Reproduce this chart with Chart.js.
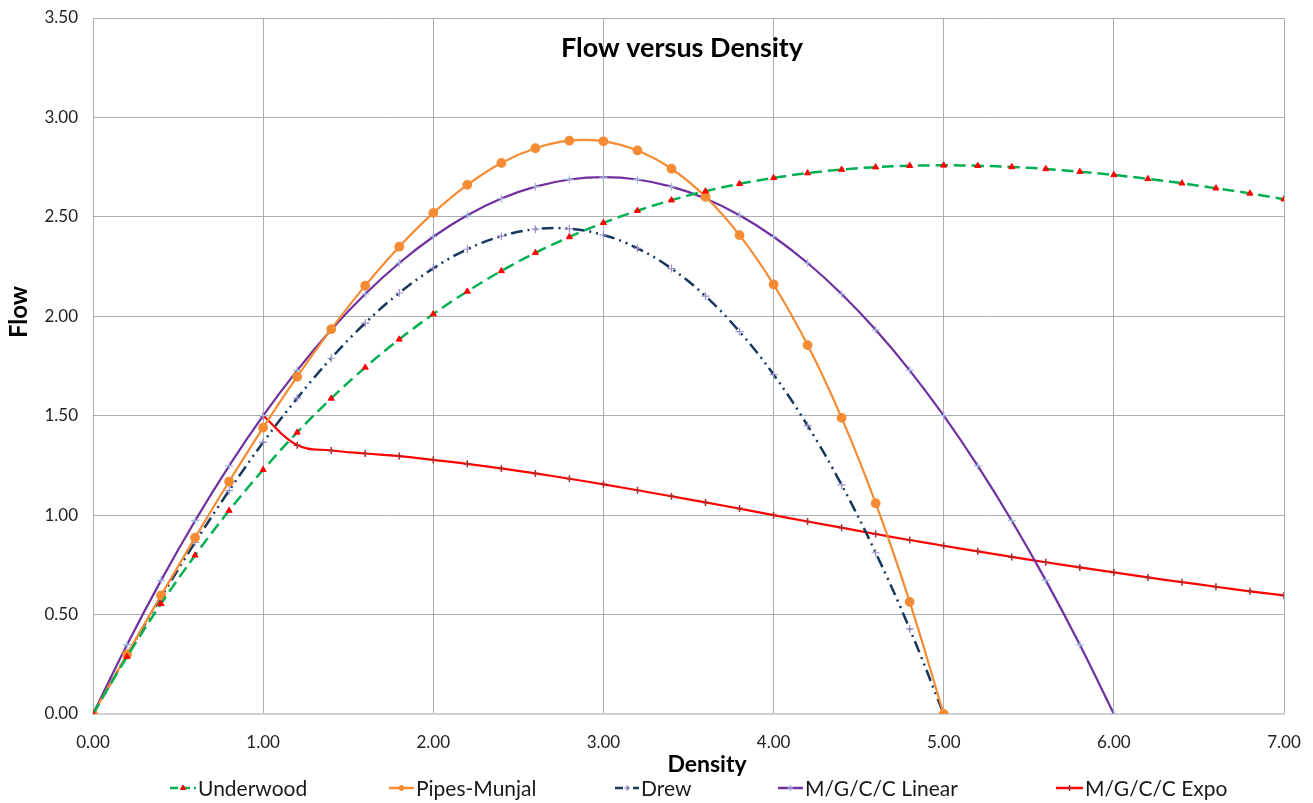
<!DOCTYPE html>
<html>
<head>
<meta charset="utf-8">
<script src="https://cdn.jsdelivr.net/npm/chart.js@4.4.0/dist/chart.umd.min.js"></script>
<style>
  html, body { margin: 0; padding: 0; background: #fff; }
  #wrap { width: 1313px; height: 803px; position: relative; }
</style>
</head>
<body>
<div id="wrap"><canvas id="flowChart" width="1313" height="803"></canvas></div>
<script>
// Density values (x axis), step 0.2
var density = [0.0, 0.2, 0.4, 0.6, 0.8, 1.0, 1.2, 1.4, 1.6, 1.8, 2.0, 2.2, 2.4, 2.6, 2.8, 3.0,
               3.2, 3.4, 3.6, 3.8, 4.0, 4.2, 4.4, 4.6, 4.8, 5.0, 5.2, 5.4, 5.6, 5.8, 6.0,
               6.2, 6.4, 6.6, 6.8, 7.0];

// Flow values for each model
var underwood = [0, 0.288, 0.554, 0.798, 1.023, 1.228, 1.416, 1.587, 1.743, 1.884, 2.011, 2.125,
                 2.228, 2.319, 2.399, 2.470, 2.531, 2.584, 2.629, 2.666, 2.696, 2.720, 2.738,
                 2.750, 2.757, 2.759, 2.757, 2.751, 2.741, 2.727, 2.711, 2.691, 2.669, 2.644,
                 2.618, 2.589];
var pipesMunjal = [0, 0.300, 0.596, 0.887, 1.169, 1.440, 1.696, 1.935, 2.154, 2.350, 2.520, 2.661,
                   2.771, 2.845, 2.883, 2.880, 2.834, 2.742, 2.601, 2.408, 2.160, 1.855, 1.489,
                   1.060, 0.564, 0];
var drew = [0, 0.298, 0.586, 0.863, 1.123, 1.366, 1.588, 1.789, 1.966, 2.117, 2.241, 2.337,
            2.403, 2.438, 2.440, 2.409, 2.342, 2.240, 2.101, 1.923, 1.707, 1.450, 1.152,
            0.811, 0.428, 0];
var mgccLinear = [0, 0.348, 0.672, 0.972, 1.248, 1.500, 1.728, 1.932, 2.112, 2.268, 2.400, 2.508,
                  2.592, 2.652, 2.688, 2.700, 2.688, 2.652, 2.592, 2.508, 2.400, 2.268, 2.112,
                  1.932, 1.728, 1.500, 1.248, 0.972, 0.672, 0.348, 0];
var mgccExpo = [null, null, null, null, null, 1.500, 1.352, 1.325, 1.310, 1.297, 1.278, 1.258,
                1.235, 1.210, 1.183, 1.155, 1.125, 1.095, 1.064, 1.033, 1.000, 0.968, 0.937,
                0.905, 0.875, 0.846, 0.818, 0.790, 0.763, 0.737, 0.712, 0.687, 0.663, 0.640,
                0.617, 0.596];

var xTicks = [0, 1, 2, 3, 4, 5, 6, 7];
var yTicks = [0, 0.5, 1, 1.5, 2, 2.5, 3, 3.5];

var FONT = 'Lato, "Open Sans", sans-serif';

function toPoints(values) {
    return values
        .map(function (v, i) { return { x: density[i], y: v }; })
        .filter(function (p) { return p.y !== null && p.y !== undefined; });
}

var datasets = [
    {
        label: 'Underwood',
        data: toPoints(underwood),
        borderColor: '#00B050',
        borderWidth: 2.5,
        borderDash: [12, 6],
        pointStyle: 'triangle',
        pointRadius: 3.5,
        pointBackgroundColor: '#FF0000',
        pointBorderColor: '#FF0000',
        pointBorderWidth: 1
    },
    {
        label: 'Pipes-Munjal',
        data: toPoints(pipesMunjal),
        borderColor: '#F58B33',
        borderWidth: 2.2,
        pointStyle: 'circle',
        pointRadius: 3.8,
        pointBackgroundColor: '#F58B33',
        pointBorderColor: '#F58B33'
    },
    {
        label: 'Drew',
        data: toPoints(drew),
        borderColor: '#17375E',
        borderWidth: 2.5,
        borderDash: [12, 5, 2, 5, 2, 5],
        pointStyle: 'cross',
        pointRadius: 4,
        pointBorderColor: '#9B8FCB',
        pointBorderWidth: 1.2
    },
    {
        label: 'M/G/C/C Linear',
        data: toPoints(mgccLinear),
        borderColor: '#7030A0',
        borderWidth: 2.2,
        pointStyle: 'cross',
        pointRadius: 4,
        pointBorderColor: '#9DB7DB',
        pointBorderWidth: 1.2
    },
    {
        label: 'M/G/C/C Expo',
        data: toPoints(mgccExpo),
        borderColor: '#FF0000',
        borderWidth: 2.2,
        pointStyle: 'cross',
        pointRadius: 3.5,
        pointBorderColor: '#B22A2A',
        pointBorderWidth: 1.5
    }
];

datasets.forEach(function (ds) {
    ds.fill = false;
    ds.tension = 0.4;
    ds.pointHoverRadius = ds.pointRadius;
});

// legend slots as in the original (icon left edge, text left edge)
var legendSlots = [[170, 198], [389, 416], [615, 641], [778, 805], [1056, 1085]];
var legendY = 788;

// title inside the plot, axis titles and the legend at fixed spots
var textPlugin = {
    id: 'textPlugin',
    afterDraw: function (chart) {
        var ctx = chart.ctx;
        ctx.save();
        ctx.fillStyle = '#000';
        ctx.textAlign = 'center';
        ctx.textBaseline = 'middle';
        ctx.font = 'bold 27px ' + FONT;
        ctx.fillText('Flow versus Density', 682, 48);
        ctx.font = 'bold 23px ' + FONT;
        ctx.fillText('Density', 707, 765);
        ctx.save();
        ctx.translate(19, 312);
        ctx.rotate(-Math.PI / 2);
        ctx.font = 'bold 24px ' + FONT;
        ctx.fillText('Flow', 0, 0);
        ctx.restore();

        // legend
        chart.data.datasets.forEach(function (ds, i) {
            var x0 = legendSlots[i][0];
            var tx = legendSlots[i][1];
            var x1 = tx - 2;
            ctx.strokeStyle = ds.borderColor;
            ctx.lineWidth = 2.5;
            ctx.setLineDash(ds.borderDash ? [8, 4, 2, 4].slice(0, ds.borderDash.length > 2 ? 4 : 2) : []);
            ctx.beginPath();
            ctx.moveTo(x0, legendY);
            ctx.lineTo(x1, legendY);
            ctx.stroke();
            ctx.setLineDash([]);
            ctx.fillStyle = ds.pointBackgroundColor || ds.pointBorderColor;
            ctx.strokeStyle = ds.pointBorderColor;
            ctx.lineWidth = ds.pointBorderWidth || 1;
            Chart.helpers.drawPoint(ctx, {
                pointStyle: ds.pointStyle,
                radius: ds.pointStyle === 'circle' ? 2.5 : 3,
                borderWidth: ds.pointBorderWidth || 1
            }, (x0 + x1) / 2, legendY);
            ctx.fillStyle = '#1a1a1a';
            ctx.textAlign = 'left';
            ctx.font = '21px ' + FONT;
            ctx.fillText(ds.label, tx, legendY + 1);
        });
        ctx.restore();
    }
};

var ctx = document.getElementById('flowChart').getContext('2d');

var flowChart = new Chart(ctx, {
    type: 'line',
    data: { datasets: datasets },
    options: {
        responsive: false,
        animation: false,
        layout: { autoPadding: false, padding: { top: 18, right: 29, left: 0, bottom: 31 } },
        plugins: {
            title: { display: false },
            tooltip: { enabled: false },
            legend: { display: false }
        },
        scales: {
            x: {
                type: 'linear',
                min: 0,
                max: 7,
                afterBuildTicks: function (scale) {
                    scale.ticks = xTicks.map(function (v) { return { value: v }; });
                },
                afterFit: function (scale) {
                    scale.height = 58;
                    scale.paddingLeft = 0;
                    scale.paddingRight = 0;
                },
                ticks: {
                    padding: 18,
                    color: '#222',
                    font: { family: FONT, size: 17 },
                    maxRotation: 0,
                    callback: function (v) { return v.toFixed(2); }
                },
                grid: { color: '#ADADAD', lineWidth: 1, drawTicks: false },
                border: { color: '#D0D0D0', width: 2 }
            },
            y: {
                type: 'linear',
                min: 0,
                max: 3.5,
                afterBuildTicks: function (scale) {
                    scale.ticks = yTicks.map(function (v) { return { value: v }; });
                },
                afterFit: function (scale) {
                    scale.width = 93;
                    scale.paddingTop = 0;
                    scale.paddingBottom = 0;
                },
                ticks: {
                    padding: 15,
                    color: '#222',
                    font: { family: FONT, size: 17 },
                    callback: function (v) { return v.toFixed(2); }
                },
                grid: { color: '#ADADAD', lineWidth: 1, drawTicks: false },
                border: { color: '#ADADAD', width: 1 }
            }
        }
    },
    plugins: [textPlugin]
});
</script>
</body>
</html>
